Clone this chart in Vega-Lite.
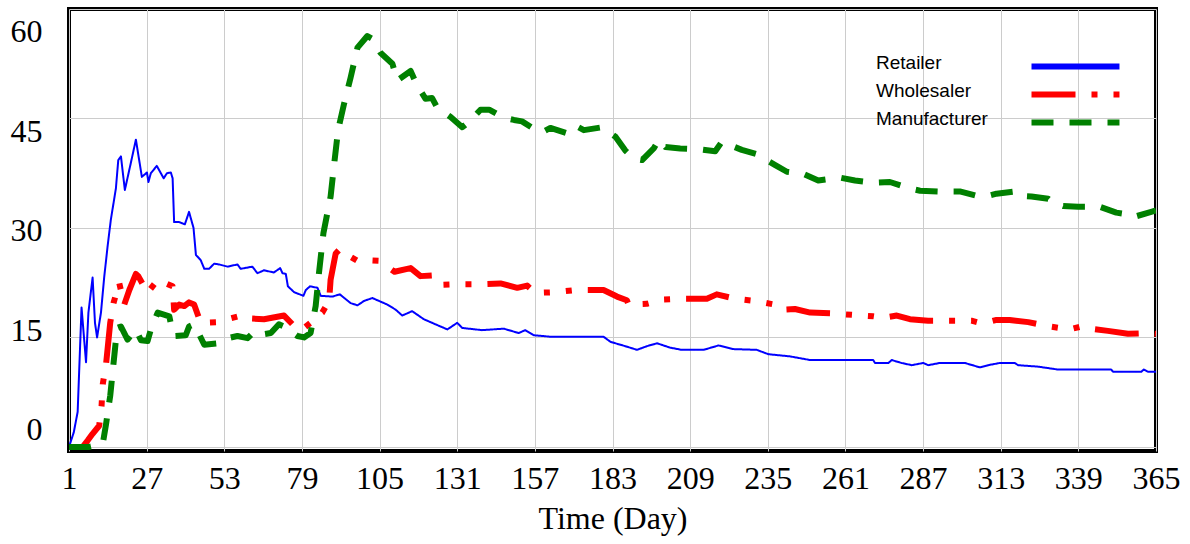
{
  "$schema": "https://vega.github.io/schema/vega-lite/v6.json",
  "width": 1087,
  "height": 442,
  "autosize": "none",
  "padding": {"left": 69, "top": 9, "right": 34, "bottom": 93},
  "background": "white",
  "config": {
    "view": {"stroke": "black", "strokeWidth": 4},
    "axis": {
      "labelFont": "Liberation Serif",
      "labelFontSize": 32,
      "labelColor": "black",
      "titleFont": "Liberation Serif",
      "titleFontSize": 32,
      "titleFontWeight": "normal",
      "titleColor": "black",
      "domain": false,
      "ticks": false,
      "tickSize": 0,
      "gridColor": "#cccccc",
      "gridWidth": 1
    }
  },
  "data": {
    "values": [
      {"series": "Retailer", "day": 1, "value": 0},
      {"series": "Retailer", "day": 2.6, "value": 2.0},
      {"series": "Retailer", "day": 3.9, "value": 4.8},
      {"series": "Retailer", "day": 5.2, "value": 19.1},
      {"series": "Retailer", "day": 6.7, "value": 11.6},
      {"series": "Retailer", "day": 7.5, "value": 18.4},
      {"series": "Retailer", "day": 8.9, "value": 23.2},
      {"series": "Retailer", "day": 9.7, "value": 17.0},
      {"series": "Retailer", "day": 10.4, "value": 15.0},
      {"series": "Retailer", "day": 11.7, "value": 18.4},
      {"series": "Retailer", "day": 12.8, "value": 23.3},
      {"series": "Retailer", "day": 13.9, "value": 27.4},
      {"series": "Retailer", "day": 15, "value": 31.1},
      {"series": "Retailer", "day": 16.7, "value": 35.4},
      {"series": "Retailer", "day": 17.5, "value": 39.3},
      {"series": "Retailer", "day": 18.4, "value": 39.8},
      {"series": "Retailer", "day": 19.7, "value": 35.2},
      {"series": "Retailer", "day": 21.7, "value": 38.9},
      {"series": "Retailer", "day": 23.4, "value": 42.1},
      {"series": "Retailer", "day": 25.4, "value": 37.0},
      {"series": "Retailer", "day": 27.1, "value": 37.6},
      {"series": "Retailer", "day": 27.6, "value": 36.3},
      {"series": "Retailer", "day": 28.4, "value": 37.5},
      {"series": "Retailer", "day": 30.4, "value": 38.5},
      {"series": "Retailer", "day": 32.7, "value": 36.8},
      {"series": "Retailer", "day": 33.8, "value": 37.5},
      {"series": "Retailer", "day": 35.1, "value": 37.6},
      {"series": "Retailer", "day": 35.7, "value": 36.8},
      {"series": "Retailer", "day": 36.2, "value": 30.8},
      {"series": "Retailer", "day": 37.9, "value": 30.8},
      {"series": "Retailer", "day": 39.8, "value": 30.5},
      {"series": "Retailer", "day": 41.2, "value": 32.2},
      {"series": "Retailer", "day": 42.7, "value": 30.0},
      {"series": "Retailer", "day": 43.5, "value": 26.3},
      {"series": "Retailer", "day": 45.1, "value": 25.6},
      {"series": "Retailer", "day": 46.3, "value": 24.4},
      {"series": "Retailer", "day": 47.9, "value": 24.4},
      {"series": "Retailer", "day": 49.6, "value": 25.1},
      {"series": "Retailer", "day": 51.3, "value": 25.0},
      {"series": "Retailer", "day": 54.1, "value": 24.7},
      {"series": "Retailer", "day": 57.4, "value": 25.0},
      {"series": "Retailer", "day": 58.5, "value": 24.4},
      {"series": "Retailer", "day": 62.4, "value": 24.7},
      {"series": "Retailer", "day": 64.1, "value": 23.8},
      {"series": "Retailer", "day": 66.3, "value": 24.2},
      {"series": "Retailer", "day": 69.6, "value": 23.9},
      {"series": "Retailer", "day": 71.7, "value": 24.5},
      {"series": "Retailer", "day": 72.5, "value": 23.8},
      {"series": "Retailer", "day": 73.6, "value": 23.7},
      {"series": "Retailer", "day": 74.3, "value": 22.0},
      {"series": "Retailer", "day": 76.4, "value": 21.2},
      {"series": "Retailer", "day": 79.5, "value": 20.7},
      {"series": "Retailer", "day": 80.3, "value": 21.5},
      {"series": "Retailer", "day": 81.7, "value": 22.0},
      {"series": "Retailer", "day": 84.2, "value": 21.8},
      {"series": "Retailer", "day": 85.3, "value": 20.7},
      {"series": "Retailer", "day": 89.2, "value": 20.6},
      {"series": "Retailer", "day": 91.7, "value": 20.9},
      {"series": "Retailer", "day": 95.3, "value": 19.7},
      {"series": "Retailer", "day": 97.6, "value": 19.4},
      {"series": "Retailer", "day": 99.8, "value": 20.0},
      {"series": "Retailer", "day": 102.6, "value": 20.4},
      {"series": "Retailer", "day": 104.8, "value": 20.0},
      {"series": "Retailer", "day": 107.6, "value": 19.5},
      {"series": "Retailer", "day": 110.4, "value": 18.8},
      {"series": "Retailer", "day": 112.6, "value": 18.0},
      {"series": "Retailer", "day": 115.9, "value": 18.6},
      {"series": "Retailer", "day": 119.8, "value": 17.5},
      {"series": "Retailer", "day": 123.7, "value": 16.8},
      {"series": "Retailer", "day": 127.7, "value": 16.1},
      {"series": "Retailer", "day": 131, "value": 17.0},
      {"series": "Retailer", "day": 132.7, "value": 16.3},
      {"series": "Retailer", "day": 139.3, "value": 16.0},
      {"series": "Retailer", "day": 146.6, "value": 16.2},
      {"series": "Retailer", "day": 151.6, "value": 15.6},
      {"series": "Retailer", "day": 153.8, "value": 16.0},
      {"series": "Retailer", "day": 156.6, "value": 15.3},
      {"series": "Retailer", "day": 162.2, "value": 15.1},
      {"series": "Retailer", "day": 180, "value": 15.1},
      {"series": "Retailer", "day": 182.3, "value": 14.4},
      {"series": "Retailer", "day": 187.3, "value": 13.8},
      {"series": "Retailer", "day": 191.2, "value": 13.3},
      {"series": "Retailer", "day": 194.5, "value": 13.8},
      {"series": "Retailer", "day": 197.9, "value": 14.2},
      {"series": "Retailer", "day": 202.3, "value": 13.6},
      {"series": "Retailer", "day": 206.2, "value": 13.3},
      {"series": "Retailer", "day": 213.5, "value": 13.3},
      {"series": "Retailer", "day": 218.5, "value": 13.9},
      {"series": "Retailer", "day": 223.5, "value": 13.4},
      {"series": "Retailer", "day": 231.3, "value": 13.3},
      {"series": "Retailer", "day": 235.2, "value": 12.7},
      {"series": "Retailer", "day": 242.5, "value": 12.4},
      {"series": "Retailer", "day": 249.2, "value": 11.9},
      {"series": "Retailer", "day": 270.3, "value": 11.9},
      {"series": "Retailer", "day": 270.9, "value": 11.5},
      {"series": "Retailer", "day": 275.4, "value": 11.5},
      {"series": "Retailer", "day": 276.5, "value": 11.9},
      {"series": "Retailer", "day": 279.8, "value": 11.5},
      {"series": "Retailer", "day": 283.2, "value": 11.2},
      {"series": "Retailer", "day": 287.1, "value": 11.5},
      {"series": "Retailer", "day": 288.7, "value": 11.2},
      {"series": "Retailer", "day": 292.6, "value": 11.5},
      {"series": "Retailer", "day": 301, "value": 11.5},
      {"series": "Retailer", "day": 306, "value": 10.9},
      {"series": "Retailer", "day": 308.8, "value": 11.2},
      {"series": "Retailer", "day": 312.7, "value": 11.5},
      {"series": "Retailer", "day": 317.7, "value": 11.5},
      {"series": "Retailer", "day": 318.8, "value": 11.2},
      {"series": "Retailer", "day": 325.5, "value": 11.0},
      {"series": "Retailer", "day": 332.2, "value": 10.6},
      {"series": "Retailer", "day": 350, "value": 10.6},
      {"series": "Retailer", "day": 350.6, "value": 10.3},
      {"series": "Retailer", "day": 360.1, "value": 10.3},
      {"series": "Retailer", "day": 360.9, "value": 10.6},
      {"series": "Retailer", "day": 362.3, "value": 10.3},
      {"series": "Retailer", "day": 365, "value": 10.3},

      {"series": "Wholesaler", "day": 1, "value": 0},
      {"series": "Wholesaler", "day": 5.6, "value": 0},
      {"series": "Wholesaler", "day": 7.3, "value": 0.9},
      {"series": "Wholesaler", "day": 8.9, "value": 1.8},
      {"series": "Wholesaler", "day": 11.1, "value": 2.9},
      {"series": "Wholesaler", "day": 11.9, "value": 5.6},
      {"series": "Wholesaler", "day": 12.3, "value": 8.6},
      {"series": "Wholesaler", "day": 13.4, "value": 11.3},
      {"series": "Wholesaler", "day": 14.8, "value": 17.0},
      {"series": "Wholesaler", "day": 15.9, "value": 19.7},
      {"series": "Wholesaler", "day": 17.8, "value": 22.5},
      {"series": "Wholesaler", "day": 19.5, "value": 19.5},
      {"series": "Wholesaler", "day": 21.2, "value": 21.5},
      {"series": "Wholesaler", "day": 23.4, "value": 23.7},
      {"series": "Wholesaler", "day": 24.2, "value": 23.4},
      {"series": "Wholesaler", "day": 27.3, "value": 21.1},
      {"series": "Wholesaler", "day": 30.7, "value": 22.9},
      {"series": "Wholesaler", "day": 35.7, "value": 22.0},
      {"series": "Wholesaler", "day": 36.2, "value": 18.8},
      {"series": "Wholesaler", "day": 37.9, "value": 19.5},
      {"series": "Wholesaler", "day": 39.6, "value": 19.3},
      {"series": "Wholesaler", "day": 41.2, "value": 19.8},
      {"series": "Wholesaler", "day": 42.9, "value": 19.5},
      {"series": "Wholesaler", "day": 45.1, "value": 17.0},
      {"series": "Wholesaler", "day": 50.7, "value": 17.1},
      {"series": "Wholesaler", "day": 54.1, "value": 17.5},
      {"series": "Wholesaler", "day": 57.9, "value": 17.9},
      {"series": "Wholesaler", "day": 59.1, "value": 17.5},
      {"series": "Wholesaler", "day": 61.9, "value": 17.6},
      {"series": "Wholesaler", "day": 66.3, "value": 17.5},
      {"series": "Wholesaler", "day": 73, "value": 18.0},
      {"series": "Wholesaler", "day": 77.5, "value": 16.1},
      {"series": "Wholesaler", "day": 79.7, "value": 16.3},
      {"series": "Wholesaler", "day": 81.9, "value": 17.0},
      {"series": "Wholesaler", "day": 84.2, "value": 17.9},
      {"series": "Wholesaler", "day": 85.8, "value": 18.4},
      {"series": "Wholesaler", "day": 88.1, "value": 20.0},
      {"series": "Wholesaler", "day": 88.6, "value": 22.9},
      {"series": "Wholesaler", "day": 90.3, "value": 26.5},
      {"series": "Wholesaler", "day": 91.7, "value": 27.1},
      {"series": "Wholesaler", "day": 94.2, "value": 26.3},
      {"series": "Wholesaler", "day": 97.6, "value": 25.5},
      {"series": "Wholesaler", "day": 99.8, "value": 25.6},
      {"series": "Wholesaler", "day": 104.8, "value": 25.5},
      {"series": "Wholesaler", "day": 110, "value": 24.0},
      {"series": "Wholesaler", "day": 115.4, "value": 24.5},
      {"series": "Wholesaler", "day": 118.7, "value": 23.4},
      {"series": "Wholesaler", "day": 122.6, "value": 23.5},
      {"series": "Wholesaler", "day": 125.4, "value": 22.2},
      {"series": "Wholesaler", "day": 132.1, "value": 22.3},
      {"series": "Wholesaler", "day": 138.6, "value": 22.3},
      {"series": "Wholesaler", "day": 145.5, "value": 22.4},
      {"series": "Wholesaler", "day": 151.1, "value": 21.8},
      {"series": "Wholesaler", "day": 154.4, "value": 22.1},
      {"series": "Wholesaler", "day": 157.2, "value": 21.1},
      {"series": "Wholesaler", "day": 163.9, "value": 21.2},
      {"series": "Wholesaler", "day": 170.9, "value": 21.5},
      {"series": "Wholesaler", "day": 180, "value": 21.5},
      {"series": "Wholesaler", "day": 184.5, "value": 20.6},
      {"series": "Wholesaler", "day": 187.8, "value": 20.1},
      {"series": "Wholesaler", "day": 188.4, "value": 19.5},
      {"series": "Wholesaler", "day": 194.5, "value": 19.6},
      {"series": "Wholesaler", "day": 200.1, "value": 20.2},
      {"series": "Wholesaler", "day": 205.7, "value": 20.3},
      {"series": "Wholesaler", "day": 214.6, "value": 20.3},
      {"series": "Wholesaler", "day": 217.9, "value": 20.9},
      {"series": "Wholesaler", "day": 224.1, "value": 20.3},
      {"series": "Wholesaler", "day": 230.8, "value": 20.0},
      {"series": "Wholesaler", "day": 237.4, "value": 19.5},
      {"series": "Wholesaler", "day": 239.7, "value": 18.8},
      {"series": "Wholesaler", "day": 244.1, "value": 18.9},
      {"series": "Wholesaler", "day": 249.2, "value": 18.4},
      {"series": "Wholesaler", "day": 255.9, "value": 18.3},
      {"series": "Wholesaler", "day": 263.1, "value": 18.1},
      {"series": "Wholesaler", "day": 270.3, "value": 17.9},
      {"series": "Wholesaler", "day": 273.7, "value": 17.7},
      {"series": "Wholesaler", "day": 278.2, "value": 18.0},
      {"series": "Wholesaler", "day": 282.6, "value": 17.5},
      {"series": "Wholesaler", "day": 288.7, "value": 17.3},
      {"series": "Wholesaler", "day": 296, "value": 17.3},
      {"series": "Wholesaler", "day": 303.2, "value": 17.3},
      {"series": "Wholesaler", "day": 306, "value": 17.0},
      {"series": "Wholesaler", "day": 308.8, "value": 17.1},
      {"series": "Wholesaler", "day": 311.6, "value": 17.4},
      {"series": "Wholesaler", "day": 316, "value": 17.4},
      {"series": "Wholesaler", "day": 322.2, "value": 17.1},
      {"series": "Wholesaler", "day": 329.4, "value": 16.5},
      {"series": "Wholesaler", "day": 336.1, "value": 16.1},
      {"series": "Wholesaler", "day": 340, "value": 16.5},
      {"series": "Wholesaler", "day": 342.8, "value": 16.2},
      {"series": "Wholesaler", "day": 348.9, "value": 15.9},
      {"series": "Wholesaler", "day": 355.6, "value": 15.5},
      {"series": "Wholesaler", "day": 362.3, "value": 15.6},
      {"series": "Wholesaler", "day": 365, "value": 15.5},

      {"series": "Manufacturer", "day": 1, "value": 0},
      {"series": "Manufacturer", "day": 7.8, "value": 0},
      {"series": "Manufacturer", "day": 12.3, "value": 0.4},
      {"series": "Manufacturer", "day": 13.4, "value": 3.1},
      {"series": "Manufacturer", "day": 14.8, "value": 7.0},
      {"series": "Manufacturer", "day": 15.6, "value": 10.2},
      {"series": "Manufacturer", "day": 16.4, "value": 13.4},
      {"series": "Manufacturer", "day": 17.1, "value": 16.3},
      {"series": "Manufacturer", "day": 18.4, "value": 16.5},
      {"series": "Manufacturer", "day": 20.6, "value": 14.7},
      {"series": "Manufacturer", "day": 23.4, "value": 16.1},
      {"series": "Manufacturer", "day": 25.1, "value": 14.6},
      {"series": "Manufacturer", "day": 27.3, "value": 14.5},
      {"series": "Manufacturer", "day": 28.7, "value": 16.5},
      {"series": "Manufacturer", "day": 30.7, "value": 18.4},
      {"series": "Manufacturer", "day": 34.6, "value": 17.9},
      {"series": "Manufacturer", "day": 35.7, "value": 15.6},
      {"series": "Manufacturer", "day": 36.2, "value": 15.2},
      {"series": "Manufacturer", "day": 40.1, "value": 15.3},
      {"series": "Manufacturer", "day": 41.2, "value": 16.5},
      {"series": "Manufacturer", "day": 42.9, "value": 16.8},
      {"series": "Manufacturer", "day": 46.3, "value": 14.0},
      {"series": "Manufacturer", "day": 50.7, "value": 14.2},
      {"series": "Manufacturer", "day": 53, "value": 14.8},
      {"series": "Manufacturer", "day": 57.4, "value": 15.2},
      {"series": "Manufacturer", "day": 60.8, "value": 14.9},
      {"series": "Manufacturer", "day": 63, "value": 15.8},
      {"series": "Manufacturer", "day": 65.5, "value": 15.4},
      {"series": "Manufacturer", "day": 68.6, "value": 15.6},
      {"series": "Manufacturer", "day": 71.3, "value": 16.8},
      {"series": "Manufacturer", "day": 73, "value": 16.5},
      {"series": "Manufacturer", "day": 77.5, "value": 15.2},
      {"series": "Manufacturer", "day": 79.7, "value": 15.0},
      {"series": "Manufacturer", "day": 81.9, "value": 15.6},
      {"series": "Manufacturer", "day": 83.6, "value": 19.3},
      {"series": "Manufacturer", "day": 84.7, "value": 23.8},
      {"series": "Manufacturer", "day": 86.2, "value": 29.3},
      {"series": "Manufacturer", "day": 88.6, "value": 34.3},
      {"series": "Manufacturer", "day": 89.7, "value": 38.4},
      {"series": "Manufacturer", "day": 91.1, "value": 43.4},
      {"series": "Manufacturer", "day": 93.1, "value": 47.0},
      {"series": "Manufacturer", "day": 95.3, "value": 50.6},
      {"series": "Manufacturer", "day": 97.6, "value": 54.7},
      {"series": "Manufacturer", "day": 100.9, "value": 56.3},
      {"series": "Manufacturer", "day": 102.6, "value": 55.9},
      {"series": "Manufacturer", "day": 105.3, "value": 54.0},
      {"series": "Manufacturer", "day": 109.3, "value": 52.5},
      {"series": "Manufacturer", "day": 110.9, "value": 50.2},
      {"series": "Manufacturer", "day": 115.4, "value": 51.5},
      {"series": "Manufacturer", "day": 117.6, "value": 49.5},
      {"series": "Manufacturer", "day": 120.4, "value": 47.7},
      {"series": "Manufacturer", "day": 122.6, "value": 47.8},
      {"series": "Manufacturer", "day": 124.3, "value": 46.5},
      {"series": "Manufacturer", "day": 128.8, "value": 45.2},
      {"series": "Manufacturer", "day": 132.7, "value": 43.8},
      {"series": "Manufacturer", "day": 135.4, "value": 44.7},
      {"series": "Manufacturer", "day": 138.8, "value": 46.2},
      {"series": "Manufacturer", "day": 141.7, "value": 46.2},
      {"series": "Manufacturer", "day": 146.6, "value": 45.1},
      {"series": "Manufacturer", "day": 150, "value": 44.8},
      {"series": "Manufacturer", "day": 152.7, "value": 44.6},
      {"series": "Manufacturer", "day": 156.6, "value": 43.6},
      {"series": "Manufacturer", "day": 159.4, "value": 43.1},
      {"series": "Manufacturer", "day": 162.2, "value": 43.7},
      {"series": "Manufacturer", "day": 168.3, "value": 42.9},
      {"series": "Manufacturer", "day": 171.1, "value": 43.9},
      {"series": "Manufacturer", "day": 173.4, "value": 43.4},
      {"series": "Manufacturer", "day": 179.5, "value": 43.8},
      {"series": "Manufacturer", "day": 184, "value": 42.5},
      {"series": "Manufacturer", "day": 187.3, "value": 40.6},
      {"series": "Manufacturer", "day": 190.1, "value": 39.5},
      {"series": "Manufacturer", "day": 192.9, "value": 39.3},
      {"series": "Manufacturer", "day": 196.8, "value": 40.9},
      {"series": "Manufacturer", "day": 198.5, "value": 42.1},
      {"series": "Manufacturer", "day": 200.7, "value": 41.1},
      {"series": "Manufacturer", "day": 205.7, "value": 40.9},
      {"series": "Manufacturer", "day": 211.8, "value": 40.8},
      {"series": "Manufacturer", "day": 217.4, "value": 40.5},
      {"series": "Manufacturer", "day": 219.6, "value": 41.8},
      {"series": "Manufacturer", "day": 226.3, "value": 40.7},
      {"series": "Manufacturer", "day": 231.3, "value": 40.1},
      {"series": "Manufacturer", "day": 237.5, "value": 38.6},
      {"series": "Manufacturer", "day": 241.4, "value": 37.7},
      {"series": "Manufacturer", "day": 246.9, "value": 37.4},
      {"series": "Manufacturer", "day": 251.9, "value": 36.5},
      {"series": "Manufacturer", "day": 259.2, "value": 36.9},
      {"series": "Manufacturer", "day": 264.2, "value": 36.5},
      {"series": "Manufacturer", "day": 270.3, "value": 36.2},
      {"series": "Manufacturer", "day": 275.9, "value": 36.3},
      {"series": "Manufacturer", "day": 282.6, "value": 35.4},
      {"series": "Manufacturer", "day": 286, "value": 35.1},
      {"series": "Manufacturer", "day": 292.6, "value": 35.0},
      {"series": "Manufacturer", "day": 299.3, "value": 35.0},
      {"series": "Manufacturer", "day": 304.9, "value": 34.4},
      {"series": "Manufacturer", "day": 308.8, "value": 34.4},
      {"series": "Manufacturer", "day": 311.6, "value": 34.7},
      {"series": "Manufacturer", "day": 317.7, "value": 35.0},
      {"series": "Manufacturer", "day": 319.4, "value": 34.4},
      {"series": "Manufacturer", "day": 323.3, "value": 34.3},
      {"series": "Manufacturer", "day": 328.9, "value": 34.0},
      {"series": "Manufacturer", "day": 330, "value": 33.6},
      {"series": "Manufacturer", "day": 333.9, "value": 33.0},
      {"series": "Manufacturer", "day": 338.9, "value": 32.9},
      {"series": "Manufacturer", "day": 346.2, "value": 32.9},
      {"series": "Manufacturer", "day": 351.7, "value": 32.1},
      {"series": "Manufacturer", "day": 355.1, "value": 31.9},
      {"series": "Manufacturer", "day": 357.5, "value": 31.5},
      {"series": "Manufacturer", "day": 363.4, "value": 32.2},
      {"series": "Manufacturer", "day": 365, "value": 32.4}
    ]
  },
  "encoding": {
    "x": {
      "field": "day",
      "type": "quantitative",
      "scale": {"domain": [1, 365], "nice": false, "zero": false},
      "axis": {
        "values": [1, 27, 53, 79, 105, 131, 157, 183, 209, 235, 261, 287, 313, 339, 365],
        "title": "Time (Day)",
        "labelPadding": 12,
        "titlePadding": 9,
        "labelFlush": false,
        "labelOverlap": false
      }
    },
    "y": {
      "field": "value",
      "type": "quantitative",
      "scale": {"domain": [-0.56, 60], "nice": false, "zero": false},
      "axis": {
        "values": [0, 15, 30, 45, 60],
        "title": null,
        "labelPadding": 27,
        "labelFlush": false,
        "labelOverlap": false,
        "labelOffset": {"expr": "-17 + 0.66 * datum.value"}
      }
    },
    "color": {
      "field": "series",
      "type": "nominal",
      "scale": {"domain": ["Retailer", "Wholesaler", "Manufacturer"], "range": ["#0000ff", "#ff0000", "#008000"]},
      "legend": {
        "orient": "none",
        "legendX": 952,
        "legendY": 47,
        "title": null,
        "symbolType": "M0,0H11.73",
        "symbolSize": 225,
        "symbolStrokeWidth": 6,
        "labelFont": "Liberation Sans",
        "labelFontSize": 19,
        "labelColor": "black",
        "labelAlign": "left",
        "labelOffset": -166,
        "rowPadding": 2,
        "padding": 0,
        "encode": {"labels": {"update": {"dy": {"value": -4}}}}
      }
    },
    "strokeDash": {
      "field": "series",
      "type": "nominal",
      "scale": {"domain": ["Retailer", "Wholesaler", "Manufacturer"], "range": [[1, 0], [44, 16, 6, 16, 6, 16], [22, 16]]}
    }
  },
  "layer": [
    {
      "transform": [{"filter": "datum.series === 'Retailer'"}],
      "mark": {"type": "line", "strokeWidth": 2, "strokeCap": "butt", "strokeJoin": "round", "clip": true}
    },
    {
      "transform": [{"filter": "datum.series !== 'Retailer'"}],
      "mark": {"type": "line", "strokeWidth": 6, "strokeCap": "butt", "strokeJoin": "round", "clip": true}
    }
  ]
}
